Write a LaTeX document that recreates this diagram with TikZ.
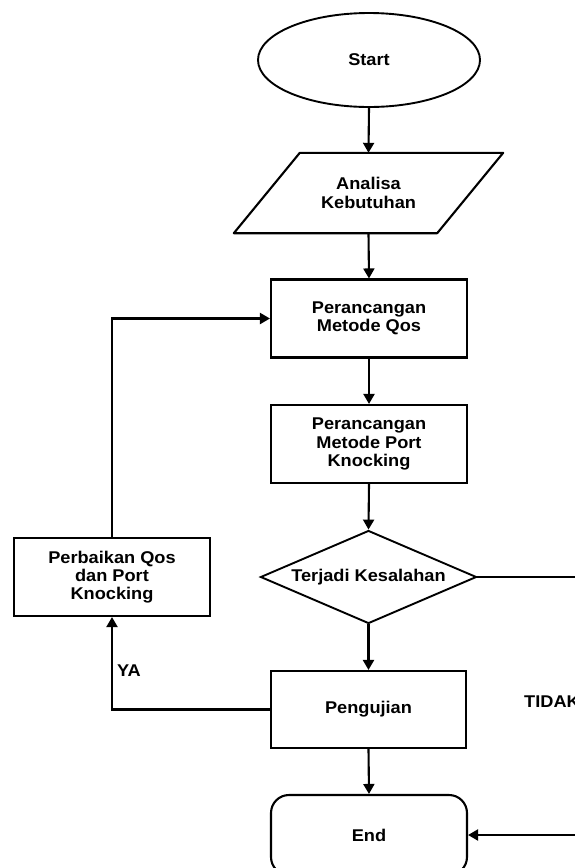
\documentclass[tikz,border=0pt]{standalone}
\usepackage{fontspec}
\setmainfont{Liberation Sans}[FakeStretch=1.07]
\usetikzlibrary{shapes.geometric,arrows.meta,calc}

\begin{document}
\begin{tikzpicture}[x=1pt,y=-1pt,
  every node/.style={font=\fontsize{17}{18.2}\selectfont\bfseries, align=center, inner sep=0pt},
  flowline/.style={line width=2.1pt},
  arrowline/.style={flowline, -{Triangle[length=10pt,width=11pt]}},
  procbox/.style={draw, line width=2.1pt, rectangle, minimum width=196pt, minimum height=78pt},
  termoval/.style={draw, line width=1.9pt, ellipse, minimum width=222pt, minimum height=94pt},
  decision/.style={draw, line width=1.9pt, diamond, aspect=2.32, minimum width=216pt, minimum height=93pt},
  endbox/.style={draw, line width=2.1pt, rectangle, rounded corners=18pt, minimum width=196pt, minimum height=80pt}]

  % page frame
  \useasboundingbox (0,0) rectangle (575,868);
  \clip (0,0) rectangle (575,868);
  \fill[white] (0,0) rectangle (575,868);

  % nodes
  \node[termoval] (start) at (369,60) {Start};
  \node[minimum width=137pt, minimum height=80pt] (ana) at (368.5,193) {Analisa\\Kebutuhan};
  \draw[line width=2.1pt, line join=round]
    (ana.north west) -- ($(ana.north east)+(66,0)$) -- (ana.south east)
    -- ($(ana.south west)+(-66,0)$) -- cycle;
  \node[procbox] (qos) at (369,318.5) {Perancangan\\Metode Qos};
  \node[procbox] (pk) at (369,444) {Perancangan\\Metode Port\\Knocking};
  \node[decision] (err) at (368.5,577) {Terjadi Kesalahan};
  \node[procbox] (fix) at (112,577) {Perbaikan Qos\\dan Port\\Knocking};
  \node[procbox, minimum width=195pt, minimum height=77pt] (test) at (368.5,709.5) {Pengujian};
  \node[endbox] (end) at (369,835) {End};

  % labels
  \node[anchor=west] (ya) at (117,671) {YA};
  \node[anchor=west] (tidak) at (524,702) {TIDAK};

  % free ends at the right border
  \coordinate (errout) at (575,577);
  \coordinate (endin) at (575,835);

  % main flow
  \draw[arrowline] (start.south) -- (ana.north);
  \draw[arrowline] (ana.south) -- (qos.north);
  \draw[arrowline] (qos.south) -- (pk.north);
  \draw[arrowline] (pk.south) -- (err.north);
  \draw[arrowline] (err.south) -- (test.north);
  \draw[arrowline] (test.south) -- (end.north);

  % correction loop
  \draw[arrowline] (test.west) -| (fix.south);
  \draw[arrowline] (fix.north) |- (qos.west);

  % no-error branch
  \draw[flowline] (err.east) -- (errout);
  \draw[arrowline] (endin) -- (end.east);
\end{tikzpicture}
\end{document}
